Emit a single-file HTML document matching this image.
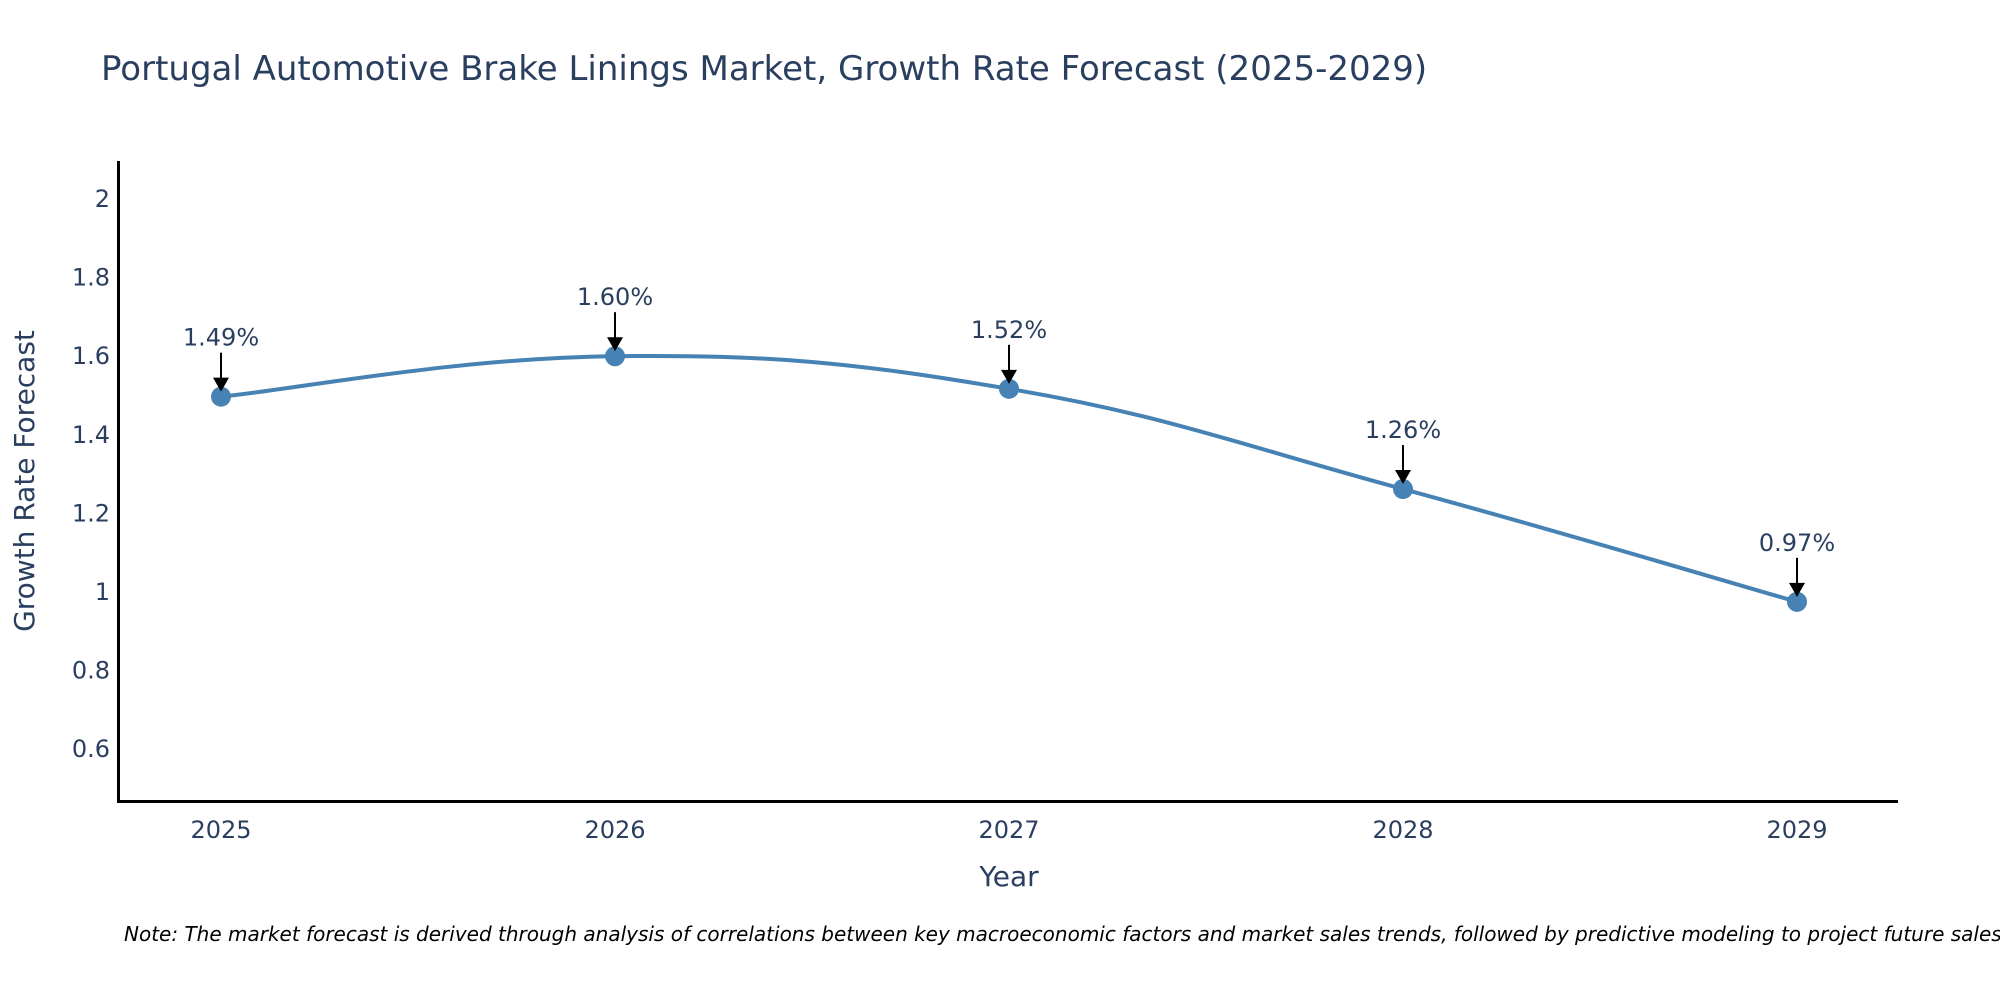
<!DOCTYPE html>
<html><head><meta charset="utf-8"><style>
body{margin:0;background:#fff;overflow:hidden}
svg{display:block;font-family:"DejaVu Sans","Liberation Sans",sans-serif}
</style></head><body>
<svg width="2000" height="1000" viewBox="0 0 2000 1000">
<text x="101" y="80" font-size="34" fill="#2a3f5f">Portugal Automotive Brake Linings Market, Growth Rate Forecast (2025-2029)</text>
<g id="yticks"></g><g id="xticks"></g>
<line x1="118.5" y1="161" x2="118.5" y2="802" stroke="#000" stroke-width="3"/>
<line x1="117" y1="801.5" x2="1898" y2="801.5" stroke="#000" stroke-width="3"/>
<text transform="translate(34,481) rotate(-90)" text-anchor="middle" font-size="28" fill="#2a3f5f">Growth Rate Forecast</text>
<text x="1009" y="886" text-anchor="middle" font-size="28" fill="#2a3f5f">Year</text>
<g id="series"></g>
<text x="124" y="941" font-size="20" font-style="italic" fill="#000">Note: The market forecast is derived through analysis of correlations between key macroeconomic factors and market sales trends, followed by predictive modeling to project future sales.</text>
</svg>
<script>
const years=["2025","2026","2027","2028","2029"];
const values=[1.497,1.600,1.517,1.262,0.975];
const labels=["1.49%","1.60%","1.52%","1.26%","0.97%"];
const yTicks=[0.6,0.8,1,1.2,1.4,1.6,1.8,2];
const NS="http://www.w3.org/2000/svg";
const X=i=>221+i*394;
const Y=v=>592-(v-1)*393;
function mk(t,a,p){const e=document.createElementNS(NS,t);for(const k in a)e.setAttribute(k,a[k]);p.appendChild(e);return e;}
const yt=document.getElementById('yticks');
yTicks.forEach(v=>{const t=mk('text',{x:110,y:Y(v)+8,'text-anchor':'end','font-size':24,fill:'#2a3f5f'},yt);t.textContent=String(v);

});
const xt=document.getElementById('xticks');
years.forEach((y,i)=>{const t=mk('text',{x:X(i),y:838,'text-anchor':'middle','font-size':24,fill:'#2a3f5f'},xt);t.textContent=y;

});
const s=document.getElementById('series');
const pts=values.map((v,i)=>[X(i),Y(v)]);
let d=`M${pts[0][0]},${pts[0][1]}`;const k=0.2;
for(let i=0;i<pts.length-1;i++){const p0=pts[Math.max(0,i-1)],p1=pts[i],p2=pts[i+1],p3=pts[Math.min(pts.length-1,i+2)];
d+=` C${p1[0]+(p2[0]-p0[0])*k},${p1[1]+(p2[1]-p0[1])*k} ${p2[0]-(p3[0]-p1[0])*k},${p2[1]-(p3[1]-p1[1])*k} ${p2[0]},${p2[1]}`;}
const ln=mk('path',{d:d,fill:'none',stroke:'#4682b4','stroke-width':4},s);


pts.forEach((p,i)=>{
const c=mk('circle',{cx:p[0],cy:p[1],r:10,fill:'#4682b4'},s);


const a=mk('line',{x1:p[0],y1:p[1]-44,x2:p[0],y2:p[1]-16,stroke:'#000','stroke-width':2},s);


const h=mk('path',{d:`M${p[0]-8},${p[1]-19} L${p[0]+8},${p[1]-19} L${p[0]},${p[1]-5} Z`,fill:'#000'},s);


const t=mk('text',{x:p[0],y:p[1]-51,'text-anchor':'middle','font-size':24,fill:'#2a3f5f'},s);t.textContent=labels[i];

});
</script>
</body></html>
